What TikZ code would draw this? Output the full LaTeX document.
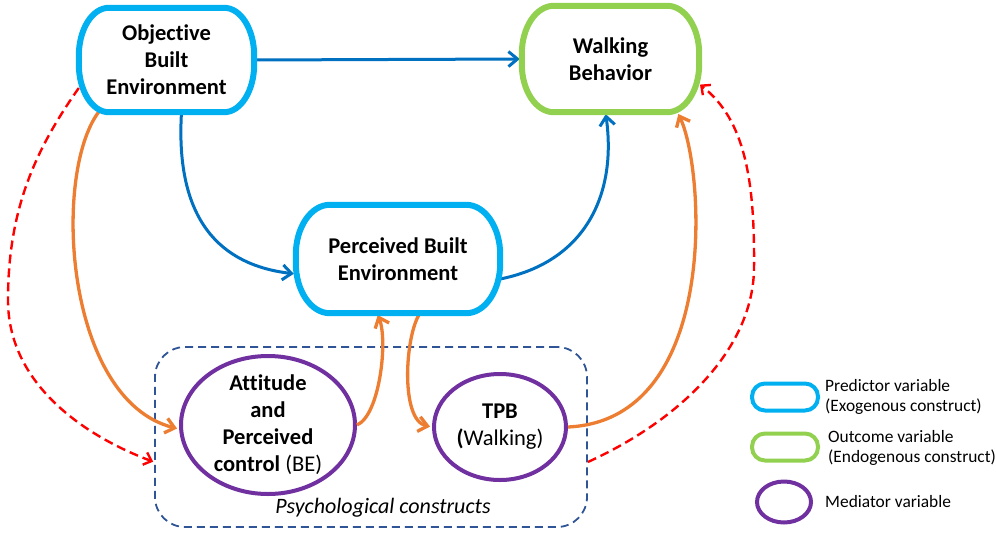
\documentclass[tikz,border=0pt]{standalone}
\usepackage{fontspec}
\setmainfont{Carlito}[Ligatures={NoCommon,NoContextual}]
\usetikzlibrary{arrows.meta,shapes.geometric}
\definecolor{boxblue}{HTML}{00B0F0}
\definecolor{arrblue}{HTML}{0070C0}
\definecolor{boxgreen}{HTML}{92D050}
\definecolor{medpurple}{HTML}{7030A0}
\definecolor{arrorange}{HTML}{ED7D31}
\definecolor{dashred}{HTML}{FF0000}
\definecolor{grpblue}{HTML}{2F5597}
% name, colour, x radius, y radius, line width
\newcommand\roundbox[5]{%
  \draw[line width=#5, #2, fill=white]
    ([xshift=#3]#1.north west) -- ([xshift=-#3]#1.north east)
    arc[start angle=90,end angle=0,x radius=#3,y radius=#4]
    -- ([yshift=#4]#1.south east)
    arc[start angle=0,end angle=-90,x radius=#3,y radius=#4]
    -- ([xshift=#3]#1.south west)
    arc[start angle=-90,end angle=-180,x radius=#3,y radius=#4]
    -- ([yshift=-#4]#1.north west)
    arc[start angle=180,end angle=90,x radius=#3,y radius=#4] -- cycle;}
\tikzset{
  boxtext/.style={inner sep=0pt, align=center, font=\fontsize{22.5}{27}\selectfont\bfseries},
  medbox/.style={ellipse, draw=medpurple, line width=4pt, fill=white, inner sep=0pt, align=center,
                 font=\fontsize{22.5}{27}\selectfont},
  legtext/.style={inner sep=0pt, align=left, anchor=west, font=\fontsize{17.4}{20}\selectfont},
  arr/.style={line width=3pt, shorten >=2pt, -{Straight Barb[length=9pt,width=15pt]}},
  bluearr/.style={arr, arrblue},
  orangearr/.style={arr, arrorange, line width=3.3pt},
  redarr/.style={dashred, line width=2.4pt, dash pattern=on 9pt off 5pt, shorten >=1pt,
                 -{Straight Barb[length=7pt,width=13pt]}},
}
\begin{document}
\begin{tikzpicture}[x=1pt,y=-1pt]
\useasboundingbox[fill=white] (0,0) rectangle (996,533);

% group box
\node[draw=grpblue, line width=1.8pt, dash pattern=on 8pt off 5pt, rounded corners=30pt,
      minimum width=432pt, minimum height=180pt, inner sep=0pt] (psy) at (371,437) {};
\node[inner sep=0pt, font=\fontsize{22}{24}\selectfont\itshape] (psylab) at (383,508) {Psychological constructs};

% main nodes (frames drawn below)
\node[boxtext, minimum width=175pt, minimum height=104pt] (obj) at (166.5,60) {};
\node[boxtext, minimum width=177pt, minimum height=106pt] (walk) at (610.5,59) {};
\node[boxtext, minimum width=204pt, minimum height=108pt] (per) at (398,259) {};

% connectors
\draw[bluearr] (obj.east) -- (walk.west);
\draw[bluearr] ([xshift=15pt]obj.south) .. controls (175,220) and (220,265) .. ([yshift=-15pt]per.west);
\draw[bluearr] ([yshift=-20pt]per.east) .. controls (585,262) and (617,195) .. ([xshift=-5pt]walk.south);

\node[medbox, minimum width=174pt, minimum height=138pt] (att) at (268,425) {};
\node[medbox, minimum width=132pt, minimum height=106pt] (tpb) at (500,427) {};

\draw[orangearr] ([xshift=-68pt]obj.south) .. controls (52,175) and (65,400) .. ([yshift=-4pt]att.west);
\draw[orangearr] (att.east) .. controls (380,415) and (388,340) .. ([xshift=-21pt]per.south);
\draw[orangearr] ([xshift=22pt]per.south) .. controls (405,335) and (400,420) .. (tpb.west);
\draw[orangearr] (tpb.east) .. controls (720,420) and (705,170) .. ([xshift=67pt]walk.south);

\draw[redarr] ([yshift=-28pt]obj.west) .. controls (35,150) and (8,210) .. (8,300)
   .. controls (8,390) and (95,440) .. ([yshift=-25pt]psy.west);
\draw[redarr] ([yshift=-25pt]psy.east) .. controls (680,420) and (752,350) .. (754,270)
   .. controls (755,180) and (745,120) .. ([yshift=-25pt]walk.east);

% frames
\roundbox{obj}{boxblue}{30pt}{48pt}{6pt}
\roundbox{walk}{boxgreen}{32pt}{48pt}{6pt}
\roundbox{per}{boxblue}{34pt}{50pt}{6pt}

% texts
\node[boxtext] (objt) at (obj) {Objective\\Built\\Environment};
\node[boxtext] (walkt) at (walk) {Walking\\Behavior};
\node[boxtext] (pert) at (per) {Perceived Built\\Environment};
\node[boxtext] (attt) at (att) {Attitude\\and\\Perceived\\control \mdseries(BE)};
\node[boxtext] (tpbt) at (tpb) {TPB\\(\mdseries Walking)};

% legend
\node[draw=boxblue, line width=4pt, rounded corners=13pt, minimum width=66pt, minimum height=27pt, inner sep=0pt] (lgb) at (785,397) {};
\node[draw=boxgreen, line width=4pt, rounded corners=13pt, minimum width=66pt, minimum height=27pt, inner sep=0pt] (lgg) at (785,447) {};
\node[ellipse, draw=medpurple, line width=4pt, minimum width=54pt, minimum height=41pt, inner sep=0pt] (lgp) at (784,502) {};
\node[legtext] (lgbt) at (825,397) {Predictor variable\\(Exogenous construct)};
\node[legtext] (lggt) at (828,448) {Outcome variable\\(Endogenous construct)};
\node[legtext] (lgpt) at (825,502) {Mediator variable};
\end{tikzpicture}
\end{document}
